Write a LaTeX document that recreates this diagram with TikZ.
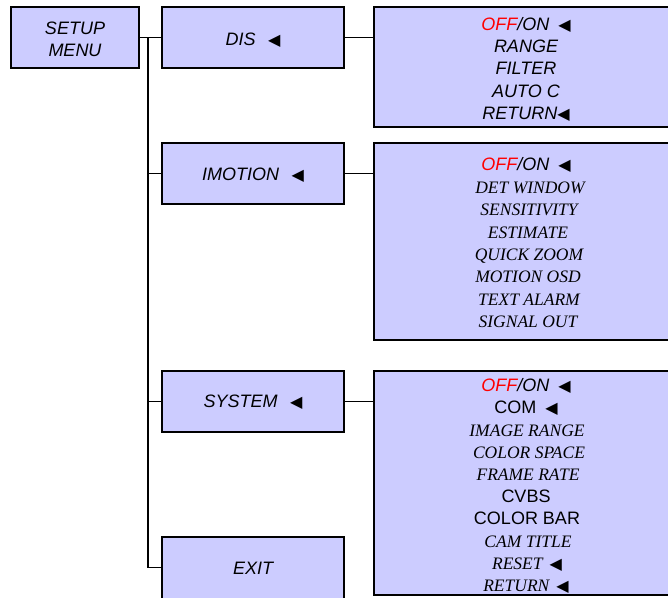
\documentclass[tikz,border=0pt]{standalone}
\usepackage{fontspec}
\setmainfont{Liberation Sans}
\newfontfamily\tms{Liberation Serif}
\newfontfamily\dvs{DejaVu Sans}
\definecolor{boxfill}{HTML}{CCCCFF}
\definecolor{offred}{HTML}{FF0000}
\newcommand\tri{{\dvs\fontsize{16}{16}\selectfont ◀}}
\newcommand\offon{\textcolor{offred}{OFF}/ON\hspace{0.5em}\tri}
\begin{document}
\begin{tikzpicture}[x=1pt,y=-1pt,
  menubox/.style={draw=black, line width=2pt, fill=boxfill, inner sep=0pt},
  leftbox/.style={menubox, minimum width=182pt, minimum height=61pt},
  lbl/.style={inner sep=0pt, align=center, font=\fontsize{18}{22.5}\selectfont\itshape},
  subbox/.style={draw=black, line width=2pt, fill=boxfill},
  item/.style={anchor=base, inner sep=0pt, font=\fontsize{18}{20}\selectfont\itshape},
  upitem/.style={anchor=base, inner sep=0pt, font=\fontsize{18}{20}\selectfont},
  seritem/.style={anchor=base, inner sep=0pt, font=\fontsize{17.5}{20}\selectfont\tms\itshape},
  conn/.style={draw=black, line width=1.5pt}]
\useasboundingbox (0,0) rectangle (668,597);
\begin{scope}
\clip (0,0) rectangle (668,597);
% left column
\node[menubox, minimum width=128pt, minimum height=61pt] (setup) at (75,37.5) {};
\node[lbl] (setupt) at (75,39.5) {SETUP\\MENU};
\node[leftbox] (dis) at (253,37.5) {};
\node[lbl] (dist) at (253,40) {DIS\hspace{0.7em}\tri};
\node[leftbox] (imotion) at (253,173.5) {};
\node[lbl] (imotiont) at (253,175) {IMOTION\hspace{0.7em}\tri};
\node[leftbox] (system) at (253,401.5) {};
\node[lbl] (systemt) at (253,402.5) {SYSTEM\hspace{0.7em}\tri};
\node[leftbox, minimum height=64pt] (exit) at (253,569) {};
\node[lbl] (exitt) at (253,568) {EXIT};
% sub menus
\node[subbox, minimum width=300pt, minimum height=120pt] (dissub) at (524,67) {};
\node[subbox, minimum width=300pt, minimum height=197pt] (imsub) at (524,241.5) {};
\node[subbox, minimum width=300pt, minimum height=224pt] (syssub) at (524,483) {};
% connectors
\coordinate (trunk) at (148,37.5);
\coordinate (exitin) at (162,567.5);
\draw[conn] (setup.east) -- (dis.west);
\draw[conn] (trunk) |- (exitin);
\draw[conn] (trunk |- imotion.west) -- (imotion.west);
\draw[conn] (trunk |- system.west) -- (system.west);
\draw[conn] (dis.east) -- (dis.east -| dissub.west);
\draw[conn] (imotion.east) -- (imotion.east -| imsub.west);
\draw[conn] (system.east) -- (system.east -| syssub.west);
% DIS items
\node[item] (d1) at (526,30.5) {\offon};
\node[item] (d2) at (526,52.5) {RANGE};
\node[item] (d3) at (526,74.5) {FILTER};
\node[item] (d4) at (526,97) {AUTO C};
\node[item] (d5) at (526,119.5) {RETURN\tri};
% IMOTION items
\node[item] (m1) at (526,170.5) {\offon};
\node[seritem] (m2) at (530,193) {DET WINDOW};
\node[seritem] (m3) at (529,215.5) {SENSITIVITY};
\node[seritem] (m4) at (528,238) {ESTIMATE};
\node[seritem] (m5) at (529,260.5) {QUICK ZOOM};
\node[seritem] (m6) at (528,282.5) {MOTION OSD};
\node[seritem] (m7) at (529,305) {TEXT ALARM};
\node[seritem] (m8) at (528,327.5) {SIGNAL OUT};
% SYSTEM items
\node[item] (s1) at (526,391.5) {\offon};
\node[upitem] (s2) at (526,413.5) {COM\hspace{0.5em}\tri};
\node[seritem] (s3) at (527,436.5) {IMAGE RANGE};
\node[seritem] (s4) at (529,458.5) {COLOR SPACE};
\node[seritem] (s5) at (528,480.5) {FRAME RATE};
\node[upitem] (s6) at (526,502.5) {CVBS};
\node[upitem] (s7) at (527,524.5) {COLOR BAR};
\node[seritem] (s8) at (528,547.5) {CAM TITLE};
\node[seritem] (s9) at (527,569.5) {RESET\hspace{0.4em}\tri};
\node[seritem] (s10) at (526,591.5) {RETURN\hspace{0.4em}\tri};
\end{scope}
\end{tikzpicture}
\end{document}
